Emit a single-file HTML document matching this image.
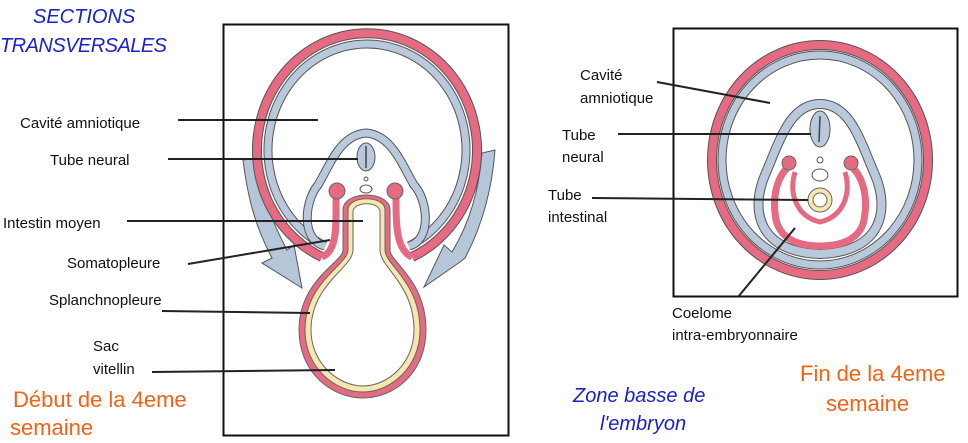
<!DOCTYPE html>
<html><head><meta charset="utf-8"><style>
html,body{margin:0;padding:0;background:#fff;}
svg{display:block}
.l{font-family:"Liberation Sans",sans-serif;font-size:15px;fill:#111}
.b{font-family:"Liberation Sans",sans-serif;font-style:italic;fill:#1a22c8;font-size:20px}
.o{font-family:"Liberation Sans",sans-serif;fill:#f06418;font-size:22px}
</style></head><body>
<svg width="968" height="443" viewBox="0 0 968 443" xmlns="http://www.w3.org/2000/svg">
<text class="b" x="33" y="23">SECTIONS</text>
<text class="b" x="0" y="52" textLength="167">TRANSVERSALES</text>
<text class="o" x="13" y="407">Début de la 4eme</text>
<text class="o" x="10" y="435">semaine</text>
<text class="b" x="573" y="402">Zone basse de</text>
<text class="b" x="600" y="430">l'embryon</text>
<text class="o" x="800" y="381">Fin de la 4eme</text>
<text class="o" x="826" y="411">semaine</text>

<rect x="223.5" y="24.5" width="285" height="411" fill="none" stroke="#111" stroke-width="2"/>
<rect x="673.5" y="28.5" width="284" height="268" fill="none" stroke="#111" stroke-width="2"/>

<!-- arrows -->
<path d="M243 160 C248 200 256 228 272 258 L262 263 L302 288 L294 245 L287 250 C272 222 262 195 256 158 Z" fill="#b4c6d8" stroke="#555" stroke-width="1"/>
<path d="M490 153 C487 190 478 222 460 252 L452 245 L432 287 L468 262 L473 258 C490 226 500 190 503 150 Z" fill="#b4c6d8" stroke="#555" stroke-width="1" transform="translate(-8,0)"/>
<!-- amnion -->
<path d="M322 257 A110 117 0 1 1 412 257" fill="none" stroke="#555" stroke-width="10"/>
<path d="M322 257 A110 117 0 1 1 412 257" fill="none" stroke="#e56a82" stroke-width="8"/>
<path d="M325 246 A99 106 0 1 1 409 246" fill="none" stroke="#555" stroke-width="9"/>
<path d="M325 246 A99 106 0 1 1 409 246" fill="none" stroke="#b9c9db" stroke-width="7"/>
<path d="M325 246 C300 240 305 200 318 185 C330 165 340 135 366 133 C392 135 402 165 414 185 C428 200 432 240 409 246" fill="none" stroke="#555" stroke-width="9"/>
<path d="M325 246 C300 240 305 200 318 185 C330 165 340 135 366 133 C392 135 402 165 414 185 C428 200 432 240 409 246" fill="none" stroke="#b9c9db" stroke-width="7"/>
<path d="M322 257 C338 250 336 225 336 195" fill="none" stroke="#e56a82" stroke-width="7"/>
<path d="M412 257 C396 250 396 225 396 195" fill="none" stroke="#e56a82" stroke-width="7"/>
<circle cx="337" cy="191" r="8" fill="#e56a82" stroke="#666" stroke-width="1"/>
<circle cx="395" cy="191" r="8" fill="#e56a82" stroke="#666" stroke-width="1"/>
<path d="M343 250 L343 210 C343 190 390 190 390 210 L390 250 C390 262 426 280 426 330 C426 373 394 398 363 398 C332 398 299 373 299 330 C299 280 343 262 343 250 Z" fill="#e56a82" stroke="#666" stroke-width="1"/>
<path d="M348 250 L348 210 C348 195 385 195 385 210 L385 250 C385 265 420 282 420 330 C420 368 390 392 363 392 C335 392 305 368 305 330 C305 282 348 265 348 250 Z" fill="#f6e7ae" stroke="#666" stroke-width="1"/>
<path d="M353 250 L353 212 C353 201 380 201 380 212 L380 250 C380 268 414 284 414 330 C414 363 388 386 363 386 C338 386 311 363 311 330 C311 284 353 268 353 250 Z" fill="#fff" stroke="#666" stroke-width="1"/>
<ellipse cx="366" cy="157" rx="9" ry="14" fill="#b9c9db" stroke="#555" stroke-width="1"/>
<path d="M366 146 L366 168" stroke="#444" stroke-width="1.5"/>
<circle cx="366" cy="179" r="2" fill="#fff" stroke="#555"/>
<ellipse cx="366" cy="189" rx="6" ry="4" fill="#fff" stroke="#555"/>

<text class="l" x="20" y="128">Cavité amniotique</text>
<line x1="178" y1="120" x2="318" y2="120" stroke="#222" stroke-width="2"/>
<text class="l" x="50" y="165">Tube neural</text>
<line x1="168" y1="159" x2="358" y2="159" stroke="#222" stroke-width="2"/>
<text class="l" x="3" y="228">Intestin moyen</text>
<line x1="127" y1="221" x2="363" y2="221" stroke="#222" stroke-width="2"/>
<text class="l" x="67" y="268">Somatopleure</text>
<line x1="188" y1="264" x2="330" y2="240" stroke="#222" stroke-width="2"/>
<text class="l" x="49" y="305">Splanchnopleure</text>
<line x1="162" y1="311" x2="310" y2="313" stroke="#222" stroke-width="2"/>
<text class="l" x="93" y="351">Sac</text>
<text class="l" x="93" y="374">vitellin</text>
<line x1="152" y1="372" x2="335" y2="370" stroke="#222" stroke-width="2"/>

<!-- RIGHT -->
<ellipse cx="820" cy="160" rx="108" ry="115" fill="none" stroke="#555" stroke-width="10"/>
<ellipse cx="820" cy="160" rx="108" ry="115" fill="none" stroke="#e56a82" stroke-width="8"/>
<ellipse cx="820" cy="160" rx="98" ry="105" fill="none" stroke="#555" stroke-width="9"/>
<ellipse cx="820" cy="160" rx="98" ry="105" fill="none" stroke="#b9c9db" stroke-width="7"/>
<path d="M820 104 C850 104 860 140 875 175 C890 210 882 252 820 254 C758 252 750 210 765 175 C780 140 790 104 820 104 Z" fill="none" stroke="#555" stroke-width="10"/>
<path d="M820 104 C850 104 860 140 875 175 C890 210 882 252 820 254 C758 252 750 210 765 175 C780 140 790 104 820 104 Z" fill="none" stroke="#b9c9db" stroke-width="8"/>
<path d="M789 166 C776 178 772 198 776 220 C781 240 800 246 820 246 C840 246 860 240 864 220 C868 198 864 178 851 166" fill="none" stroke="#e56a82" stroke-width="7"/>
<path d="M795 172 C789 192 795 216 820 222 C845 216 851 192 845 172" fill="none" stroke="#e56a82" stroke-width="5"/>
<circle cx="789" cy="163" r="7" fill="#e56a82" stroke="#666"/>
<circle cx="851" cy="163" r="7" fill="#e56a82" stroke="#666"/>
<circle cx="820" cy="200" r="12" fill="#f6e7ae" stroke="#666"/>
<circle cx="820" cy="200" r="7" fill="#fff" stroke="#666"/>
<ellipse cx="820" cy="129" rx="10" ry="18" fill="#b9c9db" stroke="#555"/>
<path d="M820 116 L819 142" stroke="#444" stroke-width="1.5"/>
<circle cx="820" cy="160" r="3" fill="#fff" stroke="#555"/>
<ellipse cx="820" cy="175" rx="8" ry="6" fill="#fff" stroke="#555"/>

<text class="l" x="580" y="80">Cavité</text>
<text class="l" x="580" y="103">amniotique</text>
<line x1="657" y1="82" x2="770" y2="103" stroke="#222" stroke-width="2"/>
<text class="l" x="562" y="140">Tube</text>
<text class="l" x="562" y="162">neural</text>
<line x1="618" y1="134" x2="811" y2="134" stroke="#222" stroke-width="2"/>
<text class="l" x="548" y="200">Tube</text>
<text class="l" x="548" y="222">intestinal</text>
<line x1="592" y1="198" x2="808" y2="200" stroke="#222" stroke-width="2"/>
<line x1="738" y1="297" x2="795" y2="228" stroke="#222" stroke-width="2"/>
<text class="l" x="672" y="318">Coelome</text>
<text class="l" x="672" y="340">intra-embryonnaire</text>
</svg>
</body></html>
